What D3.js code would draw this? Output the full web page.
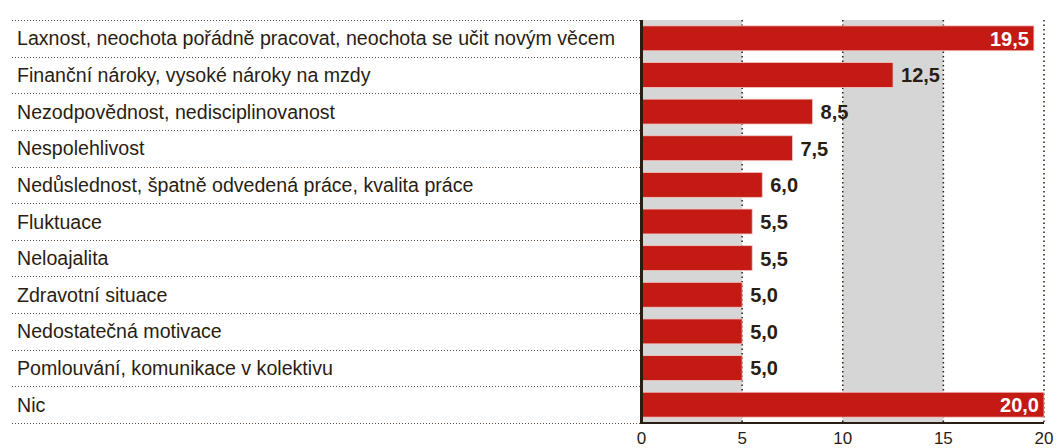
<!DOCTYPE html>
<html>
<head>
<meta charset="utf-8">
<script src="https://cdn.jsdelivr.net/npm/d3@7"></script>
<style>
  body { margin: 0; background: #fff; }
  svg { display: block; font-family: "Liberation Sans", Arial, sans-serif; }
</style>
</head>
<body>
<div id="chart"></div>
<script>
const categories = [
    'Laxnost, neochota pořádně pracovat, neochota se učit novým věcem',
    'Finanční nároky, vysoké nároky na mzdy',
    'Nezodpovědnost, nedisciplinovanost',
    'Nespolehlivost',
    'Nedůslednost, špatně odvedená práce, kvalita práce',
    'Fluktuace',
    'Neloajalita',
    'Zdravotní situace',
    'Nedostatečná motivace',
    'Pomlouvání, komunikace v kolektivu',
    'Nic'
];
const values = [19.5, 12.5, 8.5, 7.5, 6.0, 5.5, 5.5, 5.0, 5.0, 5.0, 20.0];
const ticks = [0, 5, 10, 15, 20];

const W = 1063, H = 448;
const ink = '#2a1d12';
const fmt = v => v.toFixed(1).replace('.', ',');

const svg = d3.select('#chart').append('svg').attr('width', W).attr('height', H);

const x = d3.scaleLinear().domain([0, 20]).range([641.5, 1044]);
const y = d3.scaleBand().domain(categories).range([20, 423]).paddingInner(0.32).paddingOuter(0.16);
const step = y.step();

// alternating grey bands
svg.selectAll('rect.band')
    .data([[0, 5], [10, 15]])
    .enter().append('rect')
    .attr('class', 'band')
    .attr('x', d => x(d[0]))
    .attr('y', 20)
    .attr('width', d => x(d[1]) - x(d[0]))
    .attr('height', 403)
    .attr('fill', '#d6d6d6');

// dotted vertical grid
svg.selectAll('line.vgrid')
    .data(ticks.slice(1))
    .enter().append('line')
    .attr('class', 'vgrid')
    .attr('x1', d => x(d)).attr('x2', d => x(d))
    .attr('y1', 20).attr('y2', 423)
    .attr('stroke', ink).attr('stroke-width', 1.5)
    .attr('stroke-dasharray', '1.5,3');

// dotted row separators
const seps = d3.range(categories.length + 1).map(i => 20 + i * step);
svg.selectAll('line.sep')
    .data(seps)
    .enter().append('line')
    .attr('class', 'sep')
    .attr('x1', 12).attr('x2', 640)
    .attr('y1', d => Math.round(d) + 0.5).attr('y2', d => Math.round(d) + 0.5)
    .attr('stroke', '#5a4a3c').attr('stroke-width', 1)
    .attr('stroke-dasharray', '1,2');

// category labels
svg.selectAll('text.cat')
    .data(categories)
    .enter().append('text')
    .attr('class', 'cat')
    .attr('x', 17)
    .attr('y', d => y(d) + y.bandwidth() / 2)
    .attr('dy', '0.36em')
    .attr('font-size', 19.6)
    .attr('fill', ink)
    .text(d => d);

// bars
const rows = categories.map((c, i) => ({ c, v: values[i] }));
svg.selectAll('rect.bar')
    .data(rows)
    .enter().append('rect')
    .attr('class', 'bar')
    .attr('x', x(0))
    .attr('y', d => y(d.c))
    .attr('width', d => x(d.v) - x(0))
    .attr('height', y.bandwidth())
    .attr('fill', '#c41a14')
    .attr('stroke', '#f3c9c4')
    .attr('stroke-width', 0.8);

// value labels
svg.selectAll('text.val')
    .data(rows)
    .enter().append('text')
    .attr('class', 'val')
    .attr('x', d => d.v > 15 ? x(d.v) - 5 : x(d.v) + 8)
    .attr('y', d => y(d.c) + y.bandwidth() / 2)
    .attr('dy', '0.37em')
    .attr('text-anchor', d => d.v > 15 ? 'end' : 'start')
    .attr('font-size', 20)
    .attr('font-weight', 'bold')
    .attr('fill', d => d.v > 15 ? '#fff' : ink)
    .text(d => fmt(d.v));

// axes
svg.append('line')
    .attr('x1', x(0)).attr('x2', x(0))
    .attr('y1', 20).attr('y2', 424)
    .attr('stroke', ink).attr('stroke-width', 3);
svg.append('line')
    .attr('x1', x(0)).attr('x2', x(20))
    .attr('y1', 423).attr('y2', 423)
    .attr('stroke', ink).attr('stroke-width', 2);

svg.selectAll('text.tick')
    .data(ticks)
    .enter().append('text')
    .attr('class', 'tick')
    .attr('x', d => x(d))
    .attr('y', 438)
    .attr('dy', '0.35em')
    .attr('text-anchor', 'middle')
    .attr('font-size', 17)
    .attr('fill', ink)
    .text(d => d);
</script>
</body>
</html>
